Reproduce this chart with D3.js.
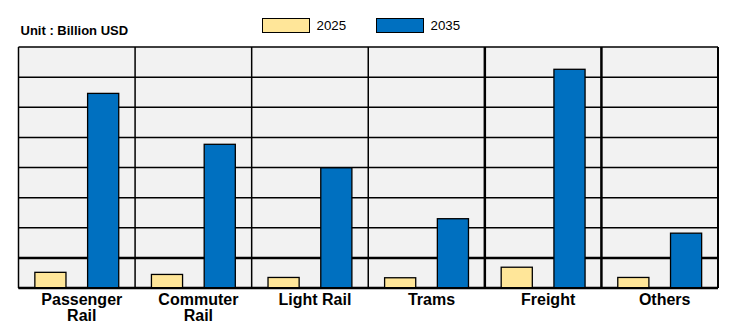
<!DOCTYPE html>
<html>
<head>
<meta charset="utf-8">
<script src="https://cdn.jsdelivr.net/npm/d3@7/dist/d3.min.js"></script>
<style>
  html, body { margin: 0; padding: 0; background: #fff; }
  svg { display: block; font-family: Arial, "Liberation Sans", sans-serif; }
</style>
</head>
<body>
<svg id="chart" width="738" height="336"></svg>
<script>
// Rail market size by segment, billion USD
const categories = ["Passenger Rail", "Commuter Rail", "Light Rail", "Trams", "Freight", "Others"];
const categoryLabels = [["Passenger", "Rail"], ["Commuter", "Rail"], ["Light Rail"], ["Trams"], ["Freight"], ["Others"]];
const seriesNames = ["2025", "2035"];
const values2025 = [5.2, 4.5, 3.5, 3.4, 6.9, 3.5];
const values2035 = [64.6, 47.7, 39.9, 23.0, 72.6, 18.2];
const gridValues = [0, 10, 20, 30, 40, 50, 60, 70, 80];
const unitLabel = "Unit : Billion USD";

const colors = { "2025": "#FFE699", "2035": "#0070C0" };
const svg = d3.select("#chart");

const plot = { left: 18.5, right: 718, top: 47, bottom: 288 };

const x = d3.scaleBand()
  .domain(categories)
  .range([plot.left, plot.right])
  .paddingInner(0)
  .paddingOuter(0);

const xSeries = d3.scaleBand()
  .domain(seriesNames)
  .range([0, x.bandwidth()])
  .paddingInner(0.41)
  .paddingOuter(0.31);

const y = d3.scaleLinear()
  .domain([0, 80])
  .range([plot.bottom, plot.top]);

// plot background
svg.append("rect")
  .attr("x", plot.left).attr("y", plot.top)
  .attr("width", plot.right - plot.left).attr("height", plot.bottom - plot.top)
  .attr("fill", "#F2F2F2");

// horizontal grid lines
svg.append("g").selectAll("line")
  .data(gridValues)
  .join("line")
  .attr("x1", plot.left).attr("x2", plot.right)
  .attr("y1", d => y(d)).attr("y2", d => y(d))
  .attr("stroke", "#000")
  .attr("stroke-width", d => (d === 10 || d === 0) ? 2.5 : 1.5);

// category separators
const separators = categories.slice(1).map(c => x(c));
svg.append("g").selectAll("line")
  .data(separators)
  .join("line")
  .attr("x1", d => d).attr("x2", d => d)
  .attr("y1", plot.top).attr("y2", plot.bottom)
  .attr("stroke", "#000")
  .attr("stroke-width", (d, i) => i >= 3 ? 2.5 : 1.5);

// outer frame sides
svg.append("line")
  .attr("x1", plot.left).attr("x2", plot.left)
  .attr("y1", plot.top).attr("y2", plot.bottom)
  .attr("stroke", "#000").attr("stroke-width", 1.5);
svg.append("line")
  .attr("x1", plot.right).attr("x2", plot.right)
  .attr("y1", plot.top).attr("y2", plot.bottom)
  .attr("stroke", "#000").attr("stroke-width", 2);

// bars
const rows = categories.map((c, i) => ({ category: c, "2025": values2025[i], "2035": values2035[i] }));
const groups = svg.append("g").selectAll("g")
  .data(rows)
  .join("g")
  .attr("transform", d => `translate(${x(d.category)},0)`);

groups.selectAll("rect")
  .data(d => seriesNames.map(s => ({ series: s, value: d[s] })))
  .join("rect")
  .attr("x", d => xSeries(d.series))
  .attr("y", d => y(d.value))
  .attr("width", xSeries.bandwidth())
  .attr("height", d => y(0) - y(d.value))
  .attr("fill", d => colors[d.series])
  .attr("stroke", "#000")
  .attr("stroke-width", 1.3);

// redraw bottom axis line over bar bases
svg.append("line")
  .attr("x1", plot.left).attr("x2", plot.right)
  .attr("y1", y(0)).attr("y2", y(0))
  .attr("stroke", "#000").attr("stroke-width", 2);

// category labels
const labels = svg.append("g").selectAll("text")
  .data(categories)
  .join("text")
  .attr("x", d => x(d) + x.bandwidth() / 2 + 5)
  .attr("y", 304.5)
  .attr("text-anchor", "middle")
  .attr("font-size", "16px")
  .attr("font-weight", "bold")
  .attr("fill", "#000");
labels.each(function (d, i) {
  const t = d3.select(this);
  categoryLabels[i].forEach((line, j) => {
    t.append("tspan")
      .attr("x", x(d) + x.bandwidth() / 2 + 5)
      .attr("dy", j === 0 ? 0 : 16.5)
      .text(line);
  });
});

// unit label
svg.append("text")
  .attr("x", 20.5).attr("y", 34.5)
  .attr("font-size", "13px")
  .attr("font-weight", "bold")
  .attr("fill", "#000")
  .text(unitLabel);

// legend
const legendX = [262.5, 376.5];
const legend = svg.append("g").selectAll("g")
  .data(seriesNames)
  .join("g")
  .attr("transform", (d, i) => `translate(${legendX[i]},18.5)`);
legend.append("rect")
  .attr("width", 47).attr("height", 14)
  .attr("fill", d => colors[d])
  .attr("stroke", "#000").attr("stroke-width", 1);
legend.append("text")
  .attr("x", 54).attr("y", 11)
  .attr("font-size", "13.3px")
  .attr("fill", "#000")
  .text(d => d);
</script>
</body>
</html>
